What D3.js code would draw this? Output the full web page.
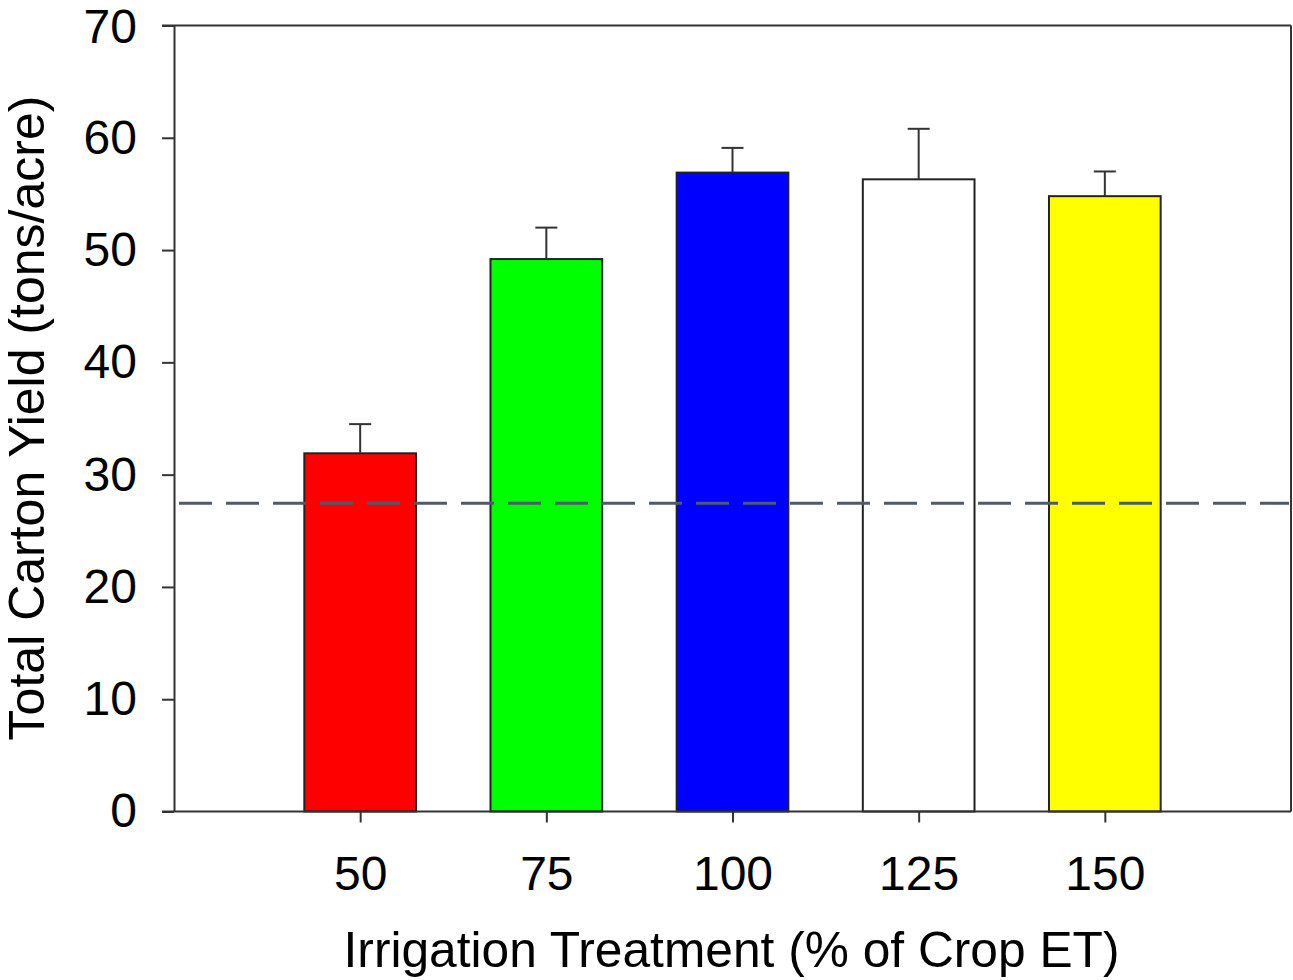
<!DOCTYPE html>
<html>
<head>
<meta charset="utf-8">
<script src="https://cdn.jsdelivr.net/npm/d3@7"></script>
<style>
  body { margin: 0; background: #fff; }
  svg { display: block; }
  text { font-family: Arial, "Liberation Sans", sans-serif; fill: #000; }
</style>
</head>
<body>
<div id="chart"></div>
<script>
const width = 1293;
const height = 980;

// data
const treatments = [50, 75, 100, 125, 150];
const yieldMean = [31.9, 49.2, 56.9, 56.3, 54.8];
const yieldErr = [2.6, 2.8, 2.2, 4.5, 2.2];
const barColors = ["#ff0000", "#00ff00", "#0000ff", "#ffffff", "#ffff00"];
const yTicks = [0, 10, 20, 30, 40, 50, 60, 70];
const refLine = 27.45;

const plotLeft = 174, plotRight = 1291, plotTop = 25.5, plotBottom = 811.5;

const svg = d3.select("#chart")
  .append("svg")
  .attr("width", width)
  .attr("height", height);

const x = d3.scaleLinear().domain([25, 175]).range([plotLeft, plotRight]);
const y = d3.scaleLinear().domain([0, 70]).range([plotBottom, plotTop]);
const barW = x(15) - x(0);

const data = treatments.map((t, i) => ({ t, v: yieldMean[i], e: yieldErr[i], c: barColors[i] }));

// frame: top and right lines
svg.append("line")
  .attr("x1", plotLeft - 12).attr("x2", plotRight)
  .attr("y1", plotTop).attr("y2", plotTop)
  .attr("stroke", "#333").attr("stroke-width", 2);
svg.append("line")
  .attr("x1", plotRight).attr("x2", plotRight)
  .attr("y1", plotTop).attr("y2", plotBottom)
  .attr("stroke", "#333").attr("stroke-width", 2);

// bars
svg.selectAll(".bar")
  .data(data)
  .join("rect")
  .attr("class", "bar")
  .attr("x", d => x(d.t) - barW / 2)
  .attr("y", d => y(d.v))
  .attr("width", barW)
  .attr("height", d => y(0) - y(d.v))
  .attr("fill", d => d.c)
  .attr("stroke", "#222")
  .attr("stroke-width", 2);

// upper error bars
const err = svg.selectAll(".err")
  .data(data)
  .join("g")
  .attr("class", "err")
  .attr("stroke", "#333")
  .attr("stroke-width", 2);
err.append("line")
  .attr("x1", d => x(d.t)).attr("x2", d => x(d.t))
  .attr("y1", d => y(d.v)).attr("y2", d => y(d.v + d.e));
err.append("line")
  .attr("x1", d => x(d.t) - 11).attr("x2", d => x(d.t) + 11)
  .attr("y1", d => y(d.v + d.e)).attr("y2", d => y(d.v + d.e));

// dashed reference line
svg.append("line")
  .attr("x1", plotLeft + 5).attr("x2", plotRight - 2)
  .attr("y1", y(refLine)).attr("y2", y(refLine))
  .attr("stroke", "#4e5a6e")
  .attr("stroke-width", 3)
  .attr("stroke-dasharray", "33,14");

// axes
const yAxis = svg.append("g")
  .attr("transform", `translate(${plotLeft},0)`)
  .call(d3.axisLeft(y).tickValues(yTicks).tickSizeInner(12).tickSizeOuter(0).tickPadding(25));
const xAxis = svg.append("g")
  .attr("transform", `translate(0,${plotBottom})`)
  .call(d3.axisBottom(x).tickValues(treatments).tickSizeInner(11).tickSizeOuter(0).tickPadding(33));

xAxis.select(".domain").attr("d", `M${plotLeft - 12},0H${plotRight}`);
[xAxis, yAxis].forEach(a => {
  a.select(".domain").attr("stroke", "#333").attr("stroke-width", 2);
  a.selectAll(".tick line").attr("stroke", "#333").attr("stroke-width", 2);
  a.selectAll(".tick text").attr("font-size", 48).attr("fill", "#000");
});
// keep the top label inside the page
yAxis.selectAll(".tick text").filter(d => d === 70).attr("dy", "0.36em");

// axis titles
svg.append("text")
  .attr("x", (345 + 1118) / 2)
  .attr("y", 967)
  .attr("text-anchor", "middle")
  .attr("font-size", 49.7)
  .text("Irrigation Treatment (% of Crop ET)");

svg.append("text")
  .attr("transform", "translate(44,418) rotate(-90)")
  .attr("text-anchor", "middle")
  .attr("font-size", 50)
  .text("Total Carton Yield (tons/acre)");
</script>
</body>
</html>
